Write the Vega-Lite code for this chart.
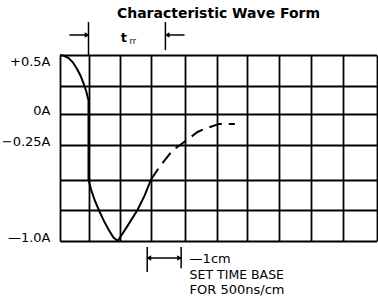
{
  "$schema": "https://vega.github.io/schema/vega-lite/v6.json",
  "width": 317,
  "height": 186,
  "autosize": "none",
  "padding": {"left": 60, "top": 55, "right": 1, "bottom": 59},
  "background": "white",
  "view": {"stroke": null},
  "title": {"text": "Characteristic Wave Form", "font": "DejaVu Sans", "fontSize": 14, "fontWeight": "bold", "color": "#000", "anchor": "middle", "frame": "group", "offset": 0},
  "datasets": {
    "wave": [
      {"k": 0, "x": 0, "y": 0.5, "part": "solid"},
      {"k": 1, "x": 0.15, "y": 0.493, "part": "solid"},
      {"k": 2, "x": 0.3, "y": 0.475, "part": "solid"},
      {"k": 3, "x": 0.45, "y": 0.44, "part": "solid"},
      {"k": 4, "x": 0.6, "y": 0.385, "part": "solid"},
      {"k": 5, "x": 0.72, "y": 0.33, "part": "solid"},
      {"k": 6, "x": 0.83, "y": 0.265, "part": "solid"},
      {"k": 7, "x": 0.92, "y": 0.2, "part": "solid"},
      {"k": 8, "x": 0.97, "y": 0.15, "part": "solid"},
      {"k": 9, "x": 1.0, "y": 0.12, "part": "solid"},
      {"k": 10, "x": 1.0, "y": -0.5, "part": "solid"},
      {"k": 11, "x": 1.08, "y": -0.58, "part": "solid"},
      {"k": 12, "x": 1.2, "y": -0.67, "part": "solid"},
      {"k": 13, "x": 1.35, "y": -0.76, "part": "solid"},
      {"k": 14, "x": 1.5, "y": -0.84, "part": "solid"},
      {"k": 15, "x": 1.65, "y": -0.91, "part": "solid"},
      {"k": 16, "x": 1.8, "y": -0.97, "part": "solid"},
      {"k": 17, "x": 1.94, "y": -1.0, "part": "solid"},
      {"k": 18, "x": 2.1, "y": -0.94, "part": "solid"},
      {"k": 19, "x": 2.3, "y": -0.86, "part": "solid"},
      {"k": 20, "x": 2.57, "y": -0.75, "part": "solid"},
      {"k": 21, "x": 2.8, "y": -0.63, "part": "solid"},
      {"k": 22, "x": 3.0, "y": -0.5, "part": "solid"},
      {"k": 23, "x": 3.0, "y": -0.5, "part": "dashed"},
      {"k": 24, "x": 3.25, "y": -0.41, "part": "dashed"},
      {"k": 25, "x": 3.64, "y": -0.29, "part": "dashed"},
      {"k": 26, "x": 3.97, "y": -0.23, "part": "dashed"},
      {"k": 27, "x": 4.41, "y": -0.145, "part": "dashed"},
      {"k": 28, "x": 4.63, "y": -0.12, "part": "dashed"},
      {"k": 29, "x": 5.09, "y": -0.08, "part": "dashed"},
      {"k": 30, "x": 5.6, "y": -0.08, "part": "dashed"}
    ],
    "rules": [
      {"x": 1, "y": 0.77, "x2": 1, "y2": 0.5},
      {"x": 0.33, "y": 0.664, "x2": 0.95, "y2": 0.664},
      {"x": 3.43, "y": 0.77, "x2": 3.43, "y2": 0.54},
      {"x": 3.47, "y": 0.664, "x2": 4.0, "y2": 0.664},
      {"x": 2.88, "y": -1.048, "x2": 2.88, "y2": -1.25},
      {"x": 3.9, "y": -1.048, "x2": 3.9, "y2": -1.22},
      {"x": 2.9, "y": -1.137, "x2": 3.88, "y2": -1.137}
    ],
    "heads": [
      {"x": 0.95, "y": 0.664, "dir": "right"},
      {"x": 3.48, "y": 0.664, "dir": "left"},
      {"x": 2.93, "y": -1.137, "dir": "left"},
      {"x": 3.85, "y": -1.137, "dir": "right"}
    ]
  },
  "encoding": {
    "x": {
      "field": "x", "type": "quantitative", "title": null,
      "scale": {"domain": [0, 1, 2, 3, 4, 5, 6, 7, 8, 9, 10], "range": [0, 28.5, 59.5, 91, 124.5, 156.5, 187, 219, 251, 283, 316.5], "nice": false, "zero": false},
      "axis": {"values": [0, 1, 2, 3, 4, 5, 6, 7, 8, 9, 10], "grid": true, "gridColor": "#000", "gridWidth": 1.8, "gridOpacity": 1, "labels": false, "ticks": false, "domain": false}
    },
    "y": {
      "field": "y", "type": "quantitative", "title": null,
      "scale": {"domain": [-1, -0.75, -0.5, -0.25, 0, 0.25, 0.5], "range": [186, 155, 124.5, 90, 59, 30.5, 0], "nice": false, "zero": false},
      "axis": {
        "values": [-1, -0.75, -0.5, -0.25, 0, 0.25, 0.5],
        "grid": true, "gridColor": "#000", "gridWidth": 1.8, "gridOpacity": 1,
        "ticks": false, "domain": false,
        "labelExpr": "datum.value == 0.5 ? '+0.5A' : datum.value == 0 ? '0A' : datum.value == -0.25 ? '\u22120.25A' : datum.value == -1 ? '\u20141.0A' : ''",
        "labelFont": "DejaVu Sans", "labelFontSize": 13, "labelColor": "#000",
        "labelPadding": 10, "labelFlush": false, "labelOverlap": false, "labelBound": false,
        "labelBaseline": {"condition": {"test": "datum.value == 0.5", "value": "top"}, "value": "alphabetic"}
      }
    }
  },
  "layer": [
    {
      "data": {"name": "wave"},
      "transform": [{"filter": "datum.part == 'solid'"}],
      "mark": {"type": "line", "color": "#000", "strokeWidth": 2},
      "encoding": {"order": {"field": "k", "type": "quantitative"}}
    },
    {
      "data": {"name": "wave"},
      "transform": [{"filter": "datum.part == 'dashed'"}],
      "mark": {"type": "line", "color": "#000", "strokeWidth": 2, "strokeDash": [13, 7]},
      "encoding": {"order": {"field": "k", "type": "quantitative"}}
    },
    {
      "data": {"name": "rules"},
      "mark": {"type": "rule", "color": "#000", "strokeWidth": 1.5},
      "encoding": {
        "x2": {"field": "x2"},
        "y2": {"field": "y2"}
      }
    },
    {
      "data": {"name": "heads"},
      "transform": [{"filter": "datum.dir == 'right'"}],
      "mark": {"type": "point", "shape": "triangle-right", "filled": true, "color": "#000", "size": 30, "opacity": 1},
      "encoding": {}
    },
    {
      "data": {"name": "heads"},
      "transform": [{"filter": "datum.dir == 'left'"}],
      "mark": {"type": "point", "shape": "triangle-left", "filled": true, "color": "#000", "size": 30, "opacity": 1},
      "encoding": {}
    },
    {
      "data": {"values": [{"x": 2.14, "y": 0.607, "label": "t"}]},
      "mark": {"type": "text", "font": "DejaVu Sans", "fontSize": 13, "fontWeight": "bold", "color": "#000", "align": "center", "baseline": "alphabetic"},
      "encoding": {"text": {"field": "label"}}
    },
    {
      "data": {"values": [{"x": 2.42, "y": 0.59, "label": "rr"}]},
      "mark": {"type": "text", "font": "DejaVu Sans", "fontSize": 8, "color": "#000", "align": "center", "baseline": "alphabetic"},
      "encoding": {"text": {"field": "label"}}
    },
    {
      "data": {"values": [
        {"x": 4.16, "y": -1.145, "label": "\u20141cm"},
        {"x": 4.16, "y": -1.392, "label": "FOR 500ns/cm"}
      ]},
      "mark": {"type": "text", "font": "DejaVu Sans", "fontSize": 13, "color": "#000", "align": "left", "baseline": "middle"},
      "encoding": {"text": {"field": "label"}}
    },
    {
      "data": {"values": [{"x": 4.16, "y": -1.275, "label": "SET TIME BASE"}]},
      "mark": {"type": "text", "font": "DejaVu Sans", "fontSize": 12.5, "color": "#000", "align": "left", "baseline": "middle"},
      "encoding": {"text": {"field": "label"}}
    }
  ]
}
